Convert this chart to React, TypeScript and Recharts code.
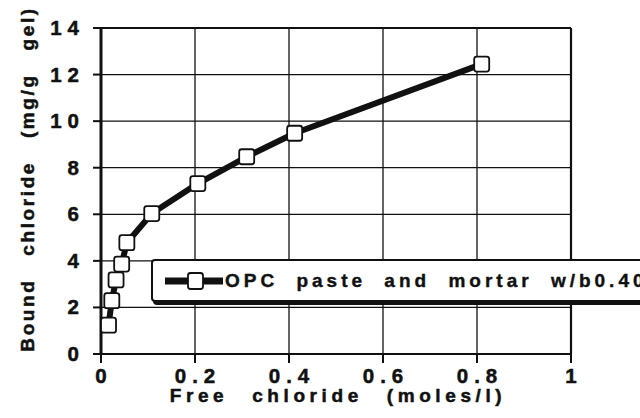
import { LineChart, Line, XAxis, YAxis, CartesianGrid, Legend } from 'recharts'

// Free chloride (moles/l) vs bound chloride (mg/g gel)
const freeChloride = [0.016, 0.023, 0.032, 0.044, 0.055, 0.108, 0.206, 0.31, 0.412, 0.81]
const boundChloride = [1.24, 2.29, 3.18, 3.86, 4.78, 6.03, 7.32, 8.47, 9.48, 12.45]

const xMajor = [0, 0.2, 0.4, 0.6, 0.8, 1]
const xMinor = [0.05, 0.1, 0.15, 0.25, 0.3, 0.35, 0.45, 0.5, 0.55, 0.65, 0.7, 0.75, 0.85, 0.9, 0.95]
const yMajor = [0, 2, 4, 6, 8, 10, 12, 14]
const yMinor = [0.5, 1, 1.5, 2.5, 3, 3.5, 4.5, 5, 5.5, 6.5, 7, 7.5, 8.5, 9, 9.5, 10.5, 11, 11.5, 12.5, 13, 13.5]

const seriesName = 'OPC paste and mortar w/b0.40'

const data = freeChloride.map((x, i) => ({ free: x, bound: boundChloride[i] }))

const FONT = '"Liberation Sans", Arial, Helvetica, sans-serif'
const INK = '#111'

// scanned print is heavy, so thicken the glyphs a little
const textStyle = { fontFamily: FONT, fontWeight: 700, fill: INK, stroke: INK, strokeWidth: 0.5 }

function XTick(props: any) {
  const { x, y, payload } = props
  return (
    <text x={x + 3} y={y} dy={15} textAnchor="middle" fontSize={20.5} letterSpacing={6} style={textStyle}>
      {String(payload.value)}
    </text>
  )
}

function YTick(props: any) {
  const { x, y, payload } = props
  return (
    <text x={x} y={y} dy={7} textAnchor="end" fontSize={20.5} letterSpacing={6} style={textStyle}>
      {String(payload.value)}
    </text>
  )
}

function XTitle(props: any) {
  const vb = props.viewBox ?? { x: 101, y: 354, width: 470, height: 60 }
  return (
    <text x={vb.x + vb.width / 2 + 2} y={vb.y + 48} textAnchor="middle" fontSize={19} letterSpacing={4.6} wordSpacing={14} style={textStyle}>
      Free chloride (moles/l)
    </text>
  )
}

function YTitle(props: any) {
  const vb = props.viewBox ?? { x: 11, y: 28, width: 90, height: 326 }
  const cx = vb.x + 23
  const cy = vb.y + vb.height / 2 - 12
  return (
    <text x={cx} y={cy} transform={`rotate(-90 ${cx} ${cy})`} textAnchor="middle" fontSize={19} letterSpacing={2.6} wordSpacing={15} style={textStyle}>
      Bound chloride (mg/g gel)
    </text>
  )
}

function SquareDot(props: any) {
  const { cx, cy, index } = props
  if (cx == null || cy == null) return null
  return <rect key={index} x={cx - 7.5} y={cy - 7.5} width={15} height={15} rx={2.5} fill="#fff" stroke={INK} strokeWidth={1.8} />
}

function LegendBox(props: any) {
  const item = props.payload?.[0]
  return (
    <div
      style={{
        width: 520,
        height: 39,
        border: `2px solid ${INK}`,
        borderRadius: 4,
        boxShadow: `2px 3px 0 ${INK}`,
        background: '#fff',
        display: 'flex',
        alignItems: 'center',
        paddingLeft: 12,
        boxSizing: 'content-box',
        whiteSpace: 'nowrap',
      }}
    >
      <svg width={58} height={20} style={{ flex: 'none' }}>
        <line x1={0} y1={10} x2={58} y2={10} stroke={INK} strokeWidth={7} />
        <rect x={23} y={2} width={15} height={16} rx={2.5} fill="#fff" stroke={INK} strokeWidth={1.8} />
      </svg>
      <span style={{ fontFamily: FONT, fontWeight: 700, fontSize: 19, letterSpacing: 4, wordSpacing: 9, color: INK, marginLeft: 2, WebkitTextStroke: `0.4px ${INK}` }}>
        {item ? item.value : seriesName}
      </span>
    </div>
  )
}

export default function App() {
  return (
    <div style={{ position: 'absolute', left: 0, top: 0, width: 640, height: 418, overflow: 'hidden', background: '#fff' }}>
      <LineChart width={640} height={418} data={data} margin={{ top: 18, right: 59, bottom: 4, left: 11 }}>
        <CartesianGrid xAxisId="x" yAxisId="y" stroke={INK} strokeWidth={1.3} />

        {/* bottom: labelled majors + inward minors */}
        <XAxis xAxisId="x" dataKey="free" type="number" domain={[0, 1]} ticks={xMajor} interval={0} height={60}
          tickSize={9} tickMargin={5} tick={<XTick />} tickLine={{ stroke: INK, strokeWidth: 2 }}
          axisLine={{ stroke: INK, strokeWidth: 2.2 }} label={<XTitle />} />
        <XAxis xAxisId="xMinor" type="number" domain={[0, 1]} ticks={xMinor} interval={0} mirror
          tickSize={5} tick={false} axisLine={false} tickLine={{ stroke: INK, strokeWidth: 1.5 }} />

        {/* top frame */}
        <XAxis xAxisId="xTop" orientation="top" type="number" domain={[0, 1]} ticks={xMajor} interval={0} height={10}
          tickSize={8} tick={false} tickLine={{ stroke: INK, strokeWidth: 2 }} axisLine={{ stroke: INK, strokeWidth: 2.2 }} />
        <XAxis xAxisId="xTopMinor" orientation="top" type="number" domain={[0, 1]} ticks={xMinor} interval={0} mirror
          tickSize={5} tick={false} axisLine={false} tickLine={{ stroke: INK, strokeWidth: 1.5 }} />

        {/* left: labelled majors + inward minors */}
        <YAxis yAxisId="y" type="number" domain={[0, 14]} ticks={yMajor} interval={0} width={90}
          tickSize={8} tickMargin={8} tick={<YTick />} tickLine={{ stroke: INK, strokeWidth: 2 }}
          axisLine={{ stroke: INK, strokeWidth: 3 }} label={<YTitle />} />
        <YAxis yAxisId="yMinor" type="number" domain={[0, 14]} ticks={yMinor} interval={0} mirror
          tickSize={5} tick={false} axisLine={false} tickLine={{ stroke: INK, strokeWidth: 1.5 }} />

        {/* right frame */}
        <YAxis yAxisId="yRight" orientation="right" type="number" domain={[0, 14]} ticks={yMajor} interval={0} width={10}
          tickSize={5} tick={false} tickLine={{ stroke: INK, strokeWidth: 2 }} axisLine={{ stroke: INK, strokeWidth: 2.2 }} />
        <YAxis yAxisId="yRightMinor" orientation="right" type="number" domain={[0, 14]} ticks={yMinor} interval={0} mirror
          tickSize={5} tick={false} axisLine={false} tickLine={{ stroke: INK, strokeWidth: 1.5 }} />

        <Line xAxisId="x" yAxisId="y" type="linear" dataKey="bound" name={seriesName} stroke={INK} strokeWidth={6}
          strokeLinejoin="round" dot={<SquareDot />} activeDot={false} isAnimationActive={false} />

        <Legend layout="vertical" align="center" verticalAlign="middle" content={<LegendBox />}
          wrapperStyle={{ left: 151, top: 259, width: 'auto' }} />
      </LineChart>
    </div>
  )
}
